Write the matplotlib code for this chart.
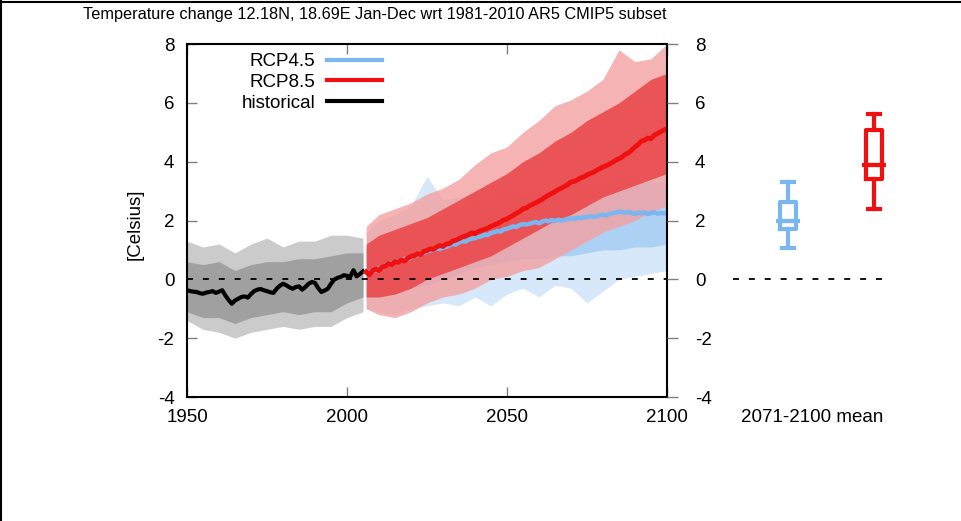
import matplotlib
matplotlib.use('Agg')
import matplotlib.pyplot as plt
import numpy as np
from matplotlib.lines import Line2D

plt.rcParams['font.family'] = ['Liberation Sans', 'DejaVu Sans']
plt.rcParams['axes.unicode_minus'] = False

title = 'Temperature change 12.18N, 18.69E Jan-Dec wrt 1981-2010 AR5 CMIP5 subset'
series_names = ['RCP4.5', 'RCP8.5', 'historical']
box_label = '2071-2100 mean'

# ensemble mean, historical 1950-2005
hist_mean = [-0.37, -0.40, -0.42, -0.43, -0.47, -0.49, -0.45, -0.43, -0.40, -0.46,
             -0.42, -0.37, -0.55, -0.70, -0.83, -0.72, -0.66, -0.60, -0.58, -0.62,
             -0.50, -0.40, -0.35, -0.33, -0.37, -0.40, -0.44, -0.46, -0.32, -0.22,
             -0.15, -0.20, -0.27, -0.32, -0.26, -0.24, -0.35, -0.26, -0.15, -0.09,
             -0.12, -0.30, -0.43, -0.38, -0.32, -0.15, -0.01, 0.05, 0.08, 0.14,
             0.12, 0.08, 0.31, 0.10, 0.18, 0.27]

# ensemble means 2006-2100
rcp85_mean = [0.25, 0.15, 0.30, 0.35,
              0.30, 0.42, 0.45, 0.53, 0.50, 0.60, 0.58, 0.66, 0.62, 0.72,
              0.78, 0.80, 0.87, 0.84, 0.95, 0.98, 1.04, 1.02, 1.10, 1.15,
              1.12, 1.20, 1.21, 1.30, 1.33, 1.38, 1.44, 1.47, 1.52, 1.58,
              1.55, 1.62, 1.66, 1.70, 1.74, 1.80, 1.85, 1.89, 1.95, 2.02,
              2.05, 2.12, 2.18, 2.25, 2.30, 2.40, 2.42, 2.50, 2.55, 2.60,
              2.66, 2.72, 2.80, 2.86, 2.92, 2.98, 3.05, 3.10, 3.16, 3.22,
              3.31, 3.33, 3.38, 3.45, 3.48, 3.55, 3.60, 3.64, 3.71, 3.76,
              3.82, 3.86, 3.92, 3.98, 4.05, 4.10, 4.16, 4.25, 4.30, 4.40,
              4.50, 4.58, 4.70, 4.73, 4.80, 4.78, 4.90, 4.95, 5.02, 5.07,
              5.12]
rcp45_mean = [0.25, 0.20, 0.32, 0.30,
              0.38, 0.40, 0.48, 0.50, 0.55, 0.58, 0.62, 0.65, 0.70, 0.68,
              0.75, 0.80, 0.82, 0.88, 0.90, 0.95, 0.98, 1.00, 1.05, 1.03,
              1.08, 1.10, 1.15, 1.20, 1.18, 1.26, 1.30, 1.28, 1.35, 1.38,
              1.40, 1.44, 1.46, 1.52, 1.50, 1.58, 1.60, 1.64, 1.62, 1.70,
              1.72, 1.76, 1.80, 1.78, 1.85, 1.88, 1.86, 1.89, 1.92, 1.95,
              1.90, 1.96, 2.00, 1.97, 2.02, 1.98, 2.03, 2.00, 2.02, 2.05,
              2.08, 2.04, 2.10, 2.08, 2.12, 2.10, 2.15, 2.12, 2.14, 2.18,
              2.20, 2.17, 2.22, 2.25, 2.27, 2.30, 2.29, 2.26, 2.30, 2.24,
              2.22, 2.26, 2.25, 2.28, 2.22, 2.25, 2.28, 2.23, 2.26, 2.24,
              2.27]

# model spread (outer = extremes, inner = bulk of members)
hist_env_years = [1950, 1955, 1960, 1965, 1970, 1975, 1980, 1985, 1990, 1995, 2000, 2005]
hist_hi = [1.3, 1.1, 1.2, 0.9, 1.2, 1.4, 1.1, 1.3, 1.3, 1.5, 1.5, 1.4]
hist_lo = [-1.4, -1.7, -1.8, -2.0, -1.8, -1.7, -1.6, -1.7, -1.6, -1.6, -1.3, -1.1]
hist_hi_in = [0.6, 0.5, 0.6, 0.3, 0.5, 0.6, 0.6, 0.7, 0.7, 0.8, 0.9, 0.9]
hist_lo_in = [-1.1, -1.3, -1.3, -1.5, -1.3, -1.2, -1.1, -1.2, -1.1, -1.1, -0.8, -0.6]

rcp_env_years = [2006, 2010, 2015, 2020, 2025, 2030, 2035, 2040, 2045, 2050,
                 2055, 2060, 2065, 2070, 2075, 2080, 2085, 2090, 2095, 2100]
rcp85_hi = [1.8, 2.2, 2.4, 2.6, 2.9, 3.1, 3.4, 3.9, 4.3, 4.5, 5.0, 5.4, 5.9, 6.1, 6.4, 6.8, 7.8, 7.4, 7.5, 8.0]
rcp85_lo = [-1.0, -1.2, -1.3, -1.1, -0.8, -0.6, -0.5, -0.3, 0.0, 0.1, 0.3, 0.4, 0.7, 1.0, 1.3, 1.6, 1.8, 2.0, 2.3, 2.5]
rcp85_hi_in = [1.2, 1.5, 1.7, 1.9, 2.1, 2.4, 2.7, 3.0, 3.3, 3.6, 4.0, 4.3, 4.7, 5.0, 5.4, 5.7, 6.0, 6.4, 6.8, 7.0]
rcp85_lo_in = [-0.6, -0.6, -0.5, -0.3, 0.0, 0.2, 0.4, 0.6, 0.8, 1.1, 1.4, 1.7, 2.0, 2.2, 2.5, 2.8, 3.0, 3.2, 3.4, 3.6]
rcp45_hi = [1.6, 2.0, 2.2, 2.5, 3.5, 2.7, 2.8, 2.9, 3.0, 3.2, 3.2, 3.3, 3.4, 3.4, 3.5, 3.6, 3.6, 3.7, 3.7, 3.8]
rcp45_lo = [-1.0, -1.1, -1.2, -1.0, -0.9, -0.8, -0.9, -0.6, -0.9, -0.5, -0.3, -0.6, -0.2, -0.3, -0.8, -0.4, 0.0, 0.1, 0.2, 0.3]
rcp45_hi_in = [1.1, 1.4, 1.6, 1.8, 2.0, 2.2, 2.4, 2.5, 2.7, 2.8, 2.9, 3.0, 3.0, 3.1, 3.1, 3.2, 3.3, 3.3, 3.3, 3.3]
rcp45_lo_in = [-0.6, -0.6, -0.5, -0.3, -0.2, 0.0, 0.2, 0.4, 0.5, 0.6, 0.7, 0.7, 0.8, 0.8, 0.9, 1.0, 1.0, 1.1, 1.1, 1.2]

# 2071-2100 mean spread: low whisker, q1, median, q3, high whisker
box45 = [1.07, 1.72, 2.00, 2.63, 3.31]
box85 = [2.38, 3.40, 3.88, 5.09, 5.61]

blue = '#7ab6f0'
red = '#f01010'

W, H = 962, 521
fig = plt.figure(figsize=(W / 100, H / 100), dpi=100)

ax = fig.add_axes([187 / W, 1 - 397 / H, 480 / W, 353 / H])
hist_years = 1950 + np.arange(len(hist_mean))
rcp_years = 2006 + np.arange(len(rcp85_mean))

ax.plot([1950, 2100], [0, 0], color='k', lw=1.3, ls=(0, (3.3, 5.5)), zorder=4)

ax.fill_between(hist_env_years, hist_lo, hist_hi, color='#cbcbcb', lw=0, zorder=2)
ax.fill_between(hist_env_years, hist_lo_in, hist_hi_in, color='#a0a0a0', lw=0, zorder=2)
ax.fill_between(rcp_env_years, rcp45_lo, rcp45_hi, color='#d6e8f9', lw=0, zorder=2)
ax.fill_between(rcp_env_years, rcp45_lo_in, rcp45_hi_in, color='#acd1f4', lw=0, zorder=2)
ax.fill_between(rcp_env_years, rcp85_lo, rcp85_hi, color='#f4a0a0', alpha=0.8, lw=0, zorder=3)
ax.fill_between(rcp_env_years, rcp85_lo_in, rcp85_hi_in, color='#ea4446', alpha=0.85, lw=0, zorder=3)

ax.plot(hist_years, hist_mean, color='k', lw=3, zorder=5)
ax.plot(rcp_years, rcp45_mean, color=blue, lw=3.2, zorder=5)
ax.plot(rcp_years, rcp85_mean, color=red, lw=3.5, zorder=6)

ax.set_xlim(1950, 2100)
ax.set_ylim(-4, 8)
ax.set_xticks([1950, 2000, 2050, 2100])
ax.set_yticks(np.arange(-4, 9, 2))
ax.tick_params(axis='both', direction='in', length=7, width=1, color='#808080',
               labelsize=13.5, top=True)
ax.tick_params(axis='y', pad=9)
ax.tick_params(axis='x', pad=9)
for s in ax.spines.values():
    s.set_linewidth(1.5)
    s.set_zorder(7)

ax_r = ax.twinx()
ax_r.set_ylim(-4, 8)
ax_r.set_yticks(np.arange(-4, 9, 2))
ax_r.tick_params(axis='y', direction='out', length=8, width=1, color='#808080',
                 labelsize=13.5, pad=12)
for s in ax_r.spines.values():
    s.set_visible(False)

handles = [Line2D([], [], color=c, lw=3) for c in [blue, red, 'k']]
ax.legend(handles, series_names, loc='upper right', bbox_to_anchor=(382 / W, 1 - 53 / H),
          bbox_transform=fig.transFigure, frameon=False, markerfirst=False,
          handlelength=2.95, handletextpad=0.6, labelspacing=0.2, borderpad=0,
          borderaxespad=0, fontsize=13.5)

# right-hand panel with the 2071-2100 boxes
ax_b = fig.add_axes([727.8 / W, 1 - 397 / H, 172 / W, 353 / H])
ax_b.set_xlim(0.3, 2.3)
ax_b.set_ylim(-4, 8)
ax_b.axis('off')
ax_b.hlines(0, 0.36, 2.1, colors='k', lw=1.3, linestyles=[(0, (3.3, 5.5))])
for pos, b, c in [(1, box45, blue), (2, box85, red)]:
    stats = [dict(whislo=b[0], q1=b[1], med=b[2], q3=b[3], whishi=b[4])]
    ax_b.bxp(stats, positions=[pos], widths=0.175, showfliers=False, capwidths=0.15,
             boxprops=dict(color=c, lw=3), whiskerprops=dict(color=c, lw=3),
             capprops=dict(color=c, lw=3), medianprops=dict(color=c, lw=3))
    ax_b.hlines(b[2], pos - 0.14, pos + 0.14, colors=c, lw=3)
ax_b.text(0.49, -20 / 353, box_label, transform=ax_b.transAxes, ha='center', va='center',
          fontsize=13.5)

fig.text(83 / W, 1 - 15 / H, title, fontsize=11.7, ha='left', va='center')
fig.text(135 / W, 1 - 224 / H, '[Celsius]', rotation=90, ha='center', va='center', fontsize=13.5)

# frame lines along the top and left edge
fig.add_artist(Line2D([0, 1], [1 - 1.5 / H, 1 - 1.5 / H], color='k', lw=1.5))
fig.add_artist(Line2D([1 / W, 1 / W], [0, 1], color='k', lw=1.5))

fig.savefig('out.png', dpi=100)
